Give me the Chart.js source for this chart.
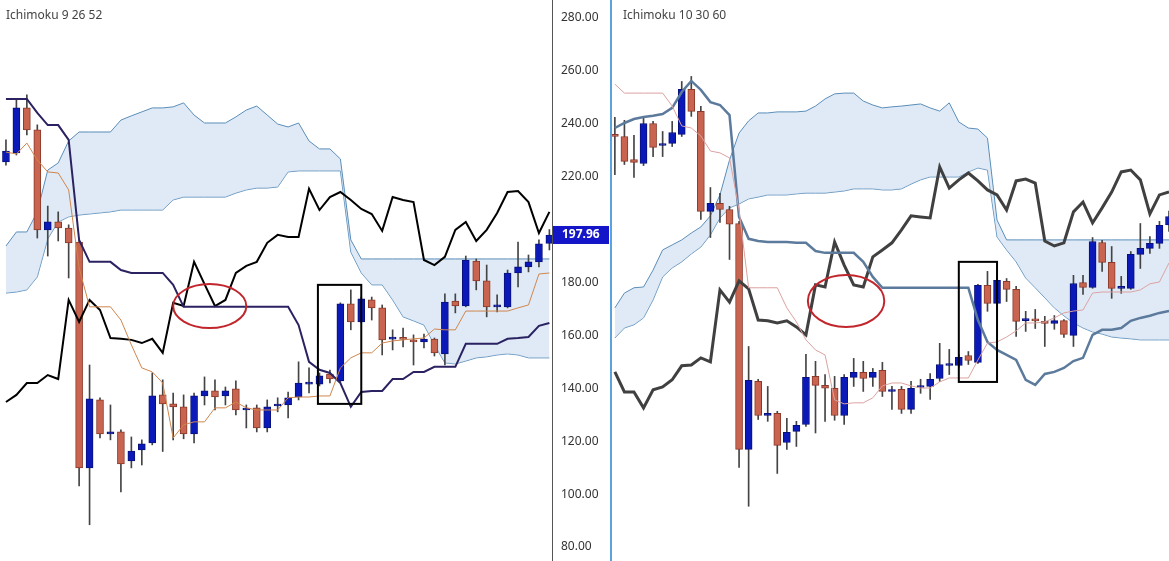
<!DOCTYPE html>
<html><head><meta charset="utf-8">
<script src="https://cdn.jsdelivr.net/npm/chart.js@4.4.0/dist/chart.umd.min.js"></script>
<style>
body{margin:0;background:#fff;width:1169px;height:561px;overflow:hidden;position:relative;font-family:"Noto Sans",sans-serif}
#c1{position:absolute;left:0;top:0}
#c2{position:absolute;left:612px;top:0}
#sep{position:absolute;left:610px;top:0;width:2px;height:561px;background:#5aa3dc}
.ttl{position:absolute;top:6px;font-size:12px;color:#444}
</style></head><body>
<canvas id="c1" width="612" height="561"></canvas>
<canvas id="c2" width="557" height="561"></canvas>
<div id="sep"></div>
<div class="ttl" style="left:6px">Ichimoku 9 26 52</div>
<div class="ttl" style="left:623px">Ichimoku 10 30 60</div>
<script>
// Candles, index 0..58
const open=[229.0,228.2,219.5,218.0,233.1,224.8,225.6,229.0,246.0,237.7,199.9,202.9,200.6,195.3,109.9,135.6,122.7,123.5,112.5,116.7,119.3,137.5,134.1,133.0,122.7,137.1,139.0,137.1,139.8,131.8,132.6,125.0,133.3,133.7,136.7,141.6,141.6,145.4,142.8,171.9,165.1,173.4,170.4,158.6,158.8,158.3,157.5,158.6,153.0,173.0,171.1,188.1,180.6,170.8,170.8,183.6,185.9,187.8,194.8];
const close=[228.2,218.8,218.4,233.1,224.1,225.2,229.7,246.0,237.7,199.9,202.9,200.6,195.0,109.9,136.0,122.7,123.5,111.4,116.3,119.0,137.1,134.1,133.0,122.7,137.1,139.0,136.7,139.0,131.8,132.2,125.0,133.0,133.6,136.4,142.0,141.8,144.7,143.5,171.9,165.1,173.8,170.4,158.3,158.7,158.5,157.5,158.6,153.4,172.6,171.1,188.5,180.6,170.8,171.5,183.6,185.9,187.8,194.6,197.96];
const high=[235.4,234.3,228.6,235.4,233.9,230.1,233.9,249.0,250.9,239.6,208.9,206.7,201.8,196.1,148.8,136.4,133.7,124.3,121.6,120.5,145.8,143.2,138.2,137.5,138.2,144.3,143.2,140.5,142.8,133.7,133.7,135.6,136.4,138.6,150.0,147.7,145.8,146.9,172.3,177.2,174.5,174.5,171.5,162.1,162.8,160.2,160.5,159.0,175.7,175.7,190.0,188.9,186.6,175.3,184.7,195.3,190.4,196.1,200.0];
const low=[213.8,217.6,212.7,217.2,220.6,220.6,224.4,228.2,235.8,196.8,190.0,195.7,181.7,103.1,88.4,121.2,120.5,100.8,109.9,111.0,118.6,116.1,120.5,120.9,119.3,133.7,131.8,133.7,129.9,125.0,123.5,123.5,131.1,128.8,135.6,138.2,140.9,142.0,142.4,162.1,164.7,165.8,152.6,154.5,155.6,148.8,155.3,152.2,148.8,168.5,170.8,177.2,167.0,168.9,170.4,178.3,184.0,185.9,192.3];
const yTicks=[80,100,120,140,160,180,200,220,240,260,280];
const lastPrice=197.96;

// Left panel (9 26 52), indices 6..58
const L_start=6;
const L_tenkan=[229.3,228.6,232.7,226.3,221.8,221.4,215.0,185.5,170.8,170.8,170.8,165.8,156.4,147.7,146.2,142.0,121.2,126.2,127.3,127.3,132.6,132.6,134.8,132.6,131.8,131.8,131.8,136.4,136.7,136.7,137.1,137.1,147.7,151.5,153.4,153.4,157.1,157.9,158.3,158.7,159.0,162.4,162.1,162.1,169.2,169.2,169.2,169.2,169.2,170.4,171.5,183.2,183.6];
const L_kijun=[249.4,249.4,249.4,244.1,239.5,239.5,233.9,196.1,187.8,187.8,187.8,184.7,183.6,183.6,183.6,183.6,179.1,170.8,170.8,170.8,170.8,170.8,170.8,170.8,170.8,170.8,170.8,170.8,163.9,150.0,147.0,145.8,142.0,133.0,138.6,139.0,139.0,143.5,143.5,146.2,146.2,148.1,148.1,148.1,156.8,156.8,156.8,156.8,158.7,159.0,159.4,163.6,164.7];
const L_chikou=[134.8,137.5,142.0,142.0,145.0,143.5,173.4,165.1,173.4,169.6,159.0,158.7,158.3,157.1,158.7,153.4,172.3,171.1,187.8,179.4,171.1,173.4,183.6,186.3,187.8,195.0,198.0,197.2,197.2,215.4,207.4,212.3,214.2,211.2,207.8,205.9,199.5,212.3,211.2,210.4,188.5,186.6,189.7,199.9,202.9,195.7,199.9,206.3,214.2,214.6,210.4,198.7,206.7];
const L_spanA=[193.8,199.1,199.1,206.7,222.5,225.2,233.5,236.9,236.9,236.9,236.9,241.4,243.0,244.5,246.0,246.0,246.4,247.9,243.3,240.3,240.3,240.3,242.6,245.2,246.7,243.3,239.9,238.8,240.3,233.5,230.5,230.5,226.7,196.1,188.9,188.9,188.9,188.9,188.9,188.9,188.9,188.9,188.9,188.9,188.9,188.9,188.9,188.9,188.9,188.9,188.9,188.9,188.9];
const L_spanB=[176.0,176.4,177.2,182.1,196.5,202.9,204.8,205.5,205.9,206.3,206.7,207.4,207.4,207.4,207.4,207.4,211.2,212.3,212.3,212.3,212.3,212.3,213.8,215.0,215.7,215.7,216.1,221.8,222.2,222.2,222.2,222.2,222.2,191.5,183.6,179.1,179.1,173.4,167.0,165.5,163.9,156.4,149.6,149.2,150.3,151.5,151.9,152.6,153.0,152.6,151.5,151.5,151.5];

// Right panel (10 30 60), indices 0..58
const R_start=0;
const R_tenkan=[248.0,244.6,244.6,244.6,244.6,244.6,239.7,232.2,231.4,228.4,222.7,222.0,220.1,200.4,171.0,171.0,171.0,171.0,163.4,158.1,151.3,147.5,145.6,128.6,127.1,127.5,127.5,129.4,133.9,135.0,135.0,133.9,133.1,133.1,135.4,136.9,136.9,136.9,143.7,150.1,150.5,152.4,154.7,157.7,157.7,158.1,159.6,161.5,162.2,162.6,169.0,169.4,169.4,169.4,169.4,170.2,172.5,173.2,180.4];
const R_kijun=[231.4,233.3,234.8,235.6,236.0,236.7,239.0,245.0,249.2,245.8,241.2,240.1,236.3,197.8,189.5,188.7,188.3,188.3,188.3,188.0,188.0,184.9,184.2,184.2,184.2,184.2,180.8,175.1,171.0,171.0,171.0,171.0,171.0,171.0,171.0,171.0,171.0,171.0,158.8,150.5,147.5,145.6,143.7,136.2,134.3,138.4,139.2,140.7,143.3,144.5,153.2,155.1,155.1,155.8,158.5,159.6,160.4,161.5,162.2];
const R_chikou=[139.2,131.6,131.6,125.6,132.4,133.5,136.2,141.5,141.8,144.5,143.0,170.2,165.6,173.6,170.6,158.8,158.5,157.7,158.5,156.2,153.2,172.1,171.3,188.3,179.6,172.1,171.3,182.7,185.3,188.0,192.9,198.2,197.8,197.4,216.7,208.7,211.8,214.4,211.4,208.0,206.1,200.4,211.4,212.1,210.6,188.7,186.8,188.0,199.7,203.4,195.5,201.2,207.2,214.8,215.5,211.8,198.9,206.1,207.2];
const R_spanA=[163.4,169.0,171.0,171.3,177.7,185.3,187.2,189.1,191.7,194.0,198.2,206.1,219.3,229.5,234.1,237.1,237.1,237.5,237.5,237.5,237.8,239.7,242.4,244.3,244.6,244.6,241.6,240.1,239.0,239.4,239.7,240.1,240.5,239.0,237.8,240.9,233.7,231.4,231.0,227.6,196.6,189.1,189.1,189.1,189.1,189.1,189.1,189.1,189.1,189.1,189.1,189.1,189.1,189.1,189.1,189.1,189.1,189.1,189.1];
const R_spanB=[152.0,155.8,157.0,159.6,166.4,175.1,178.5,180.8,183.8,186.4,191.0,197.4,201.2,202.7,204.6,205.3,206.1,206.1,206.1,206.5,206.8,206.8,206.8,207.2,207.6,208.4,208.4,208.4,208.0,208.0,208.4,210.2,211.8,212.9,212.9,212.9,212.9,214.8,216.3,215.5,190.2,185.3,180.8,174.7,171.0,167.2,163.4,160.4,157.7,155.8,154.3,153.5,152.4,152.0,151.7,151.3,151.3,151.3,151.3];

const UP='#0b19b8', DN='#c8644f', DNB='#8a3a2a';
const pts=(a,s)=>a.map((v,i)=>({x:s+i,y:v}));
const body=open.map((o,i)=>({x:i,y:[o,close[i]]}));
const wick=open.map((o,i)=>({x:i,y:[low[i],high[i]]}));
const isUp=open.map((o,i)=>close[i]>=o);

function build(canvas,cfg){
  const ds=[
    {type:'line',data:pts(cfg.tenkan,cfg.start),borderColor:cfg.tc,borderWidth:1,pointRadius:0,order:1},
    {type:'line',data:pts(cfg.kijun,cfg.start),borderColor:cfg.kc,borderWidth:cfg.kw,pointRadius:0,order:1},
    {type:'line',data:pts(cfg.chikou,cfg.start),borderColor:cfg.cc,borderWidth:cfg.cw,pointRadius:0,order:1},
    {type:'bar',data:body,grouped:false,barThickness:cfg.bw,minBarLength:2,
      backgroundColor:isUp.map(u=>u?UP:DN),borderColor:isUp.map(u=>u?'#08107a':DNB),borderWidth:1,borderSkipped:false,order:2},
    {type:'bar',data:wick,grouped:false,barThickness:1,backgroundColor:'#444',order:3},
    {type:'line',data:pts(cfg.spanA,cfg.start),borderColor:'#5a8db8',borderWidth:1,pointRadius:0,fill:'+1',backgroundColor:'rgba(196,216,238,0.55)',order:4},
    {type:'line',data:pts(cfg.spanB,cfg.start),borderColor:'#5a8db8',borderWidth:1,pointRadius:0,fill:false,order:4}
  ];
  const deco={id:'deco',afterDatasetsDraw(ch){
    const c=ch.ctx,x=ch.scales.x,y=ch.scales.y;
    c.save();
    c.strokeStyle='#c0262c';c.lineWidth=2;c.beginPath();
    const e=cfg.ell;
    c.ellipse(x.getPixelForValue(e[0]),y.getPixelForValue(e[1]),
      Math.abs(x.getPixelForValue(e[0]+e[2])-x.getPixelForValue(e[0])),
      Math.abs(y.getPixelForValue(e[1]+e[3])-y.getPixelForValue(e[1])),0,0,Math.PI*2);
    c.stroke();
    const r=cfg.rect;
    c.strokeStyle='#000';c.lineWidth=2;
    const x1=x.getPixelForValue(r[0]),x2=x.getPixelForValue(r[1]),y1=y.getPixelForValue(r[2]),y2=y.getPixelForValue(r[3]);
    c.strokeRect(x1,y1,x2-x1,y2-y1);
    c.restore();
  },afterDraw(ch){
    if(!cfg.axis)return;
    const c=ch.ctx,y=ch.scales.y;
    c.save();
    const py=y.getPixelForValue(lastPrice);
    c.fillStyle='#1414c8';c.fillRect(553,py-9,56,18);
    c.fillStyle='#fff';c.font='bold 12px "Noto Sans"';c.textBaseline='middle';c.textAlign='left';
    c.fillText(lastPrice.toFixed(2),562,py);
    c.restore();
  }};
  return new Chart(canvas,{data:{datasets:ds},plugins:[deco],options:{
    responsive:false,animation:false,devicePixelRatio:1,
    layout:{padding:0,autoPadding:false},
    plugins:{legend:{display:false},tooltip:{enabled:false}},
    elements:{line:{tension:0}},
    scales:{
      x:{type:'linear',min:cfg.xmin,max:cfg.xmax,display:false,offset:false},
      y:{type:'linear',min:cfg.ymin,max:cfg.ymax,display:cfg.axis,position:'right',
        grid:{display:false,drawTicks:true,tickLength:5,tickColor:'#555'},
        border:{display:true,color:'#555'},
        afterBuildTicks:s=>{s.ticks=yTicks.map(v=>({value:v}));},
        afterFit:s=>{if(cfg.axis){s.width=60;s.paddingTop=0;s.paddingBottom=0;}},
        ticks:{color:'#333',font:{family:'"Noto Sans"',size:12},padding:4,callback:v=>Math.abs(v-lastPrice)<5?'':Number(v).toFixed(2)}}
    }}});
}
build(document.getElementById('c1'),{start:L_start,tenkan:L_tenkan,kijun:L_kijun,chikou:L_chikou,spanA:L_spanA,spanB:L_spanB,
  tc:'#d0854c',kc:'#2b2262',kw:2,cc:'#000',cw:2,bw:7,xmin:5.43,xmax:58.25,ymin:74.7,ymax:286.8,axis:true,
  ell:[25.5,171.1,3.5,8.3],rect:[35.85,40.0,179.1,134.1]});
build(document.getElementById('c2'),{start:R_start,tenkan:R_tenkan,kijun:R_kijun,chikou:R_chikou,spanA:R_spanA,spanB:R_spanB,
  tc:'#dca2a0',kc:'#5b7a9c',kw:2.5,cc:'#404040',cw:3,bw:7,xmin:-0.3,xmax:58.0,ymin:67.7,ymax:279.8,axis:false,
  ell:[24.2,166.0,4.0,9.8],rect:[36.0,40.0,180.8,135.4]});
</script>
</body></html>
